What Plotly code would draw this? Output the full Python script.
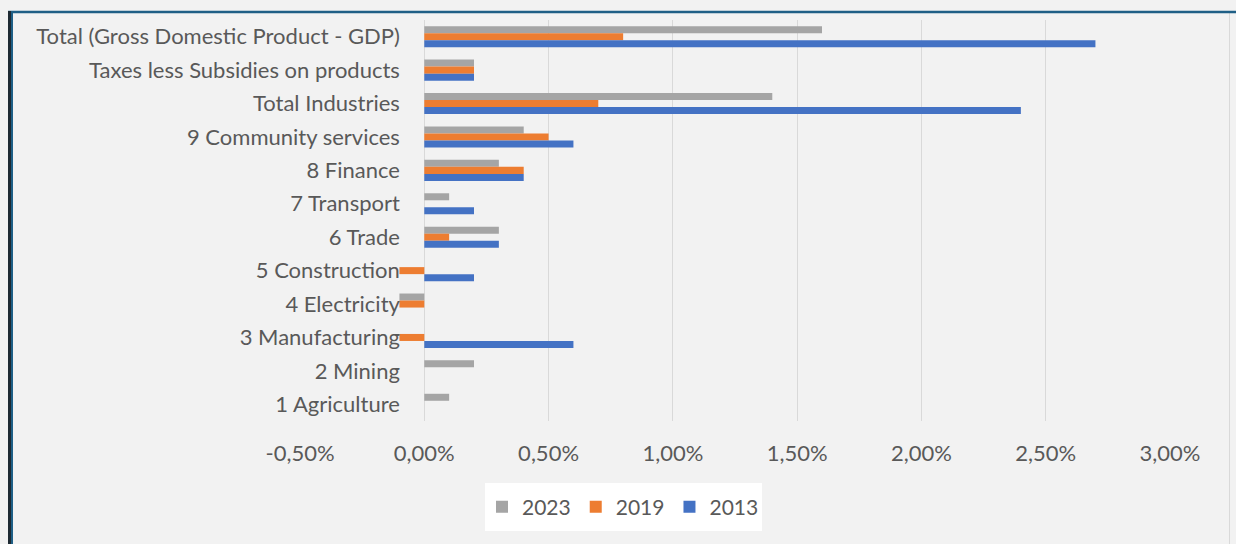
import plotly.graph_objects as go

# Sectors, listed top to bottom as displayed
categories = [
    "Total (Gross Domestic Product - GDP)",
    "Taxes less Subsidies on products",
    "Total Industries",
    "9 Community services",
    "8 Finance",
    "7 Transport",
    "6 Trade",
    "5 Construction",
    "4 Electricity",
    "3 Manufacturing",
    "2 Mining",
    "1 Agriculture",
]

# Growth contributions, in percent
values_2023 = [1.6, 0.2, 1.4, 0.4, 0.3, 0.1, 0.3, 0.0, -0.1, 0.0, 0.2, 0.1]
values_2019 = [0.8, 0.2, 0.7, 0.5, 0.4, 0.0, 0.1, -0.1, -0.1, -0.1, 0.0, 0.0]
values_2013 = [2.7, 0.2, 2.4, 0.6, 0.4, 0.2, 0.3, 0.2, 0.0, 0.6, 0.0, 0.0]

x_tick_values = [-0.5, 0.0, 0.5, 1.0, 1.5, 2.0, 2.5, 3.0]
x_tick_labels = ["-0,50%", "0,00%", "0,50%", "1,00%", "1,50%", "2,00%", "2,50%", "3,00%"]

series = [
    ("2023", values_2023, "#a5a5a5"),
    ("2019", values_2019, "#ed7d31"),
    ("2013", values_2013, "#4472c4"),
]

W, H = 1236, 544
ML, MR, MT, MB = 300, 66, 20, 123
X_MIN, X_MAX = -0.5, 3.0

fig = go.Figure()
for name, vals, color in series:
    fig.add_trace(go.Bar(
        y=categories, x=vals, name=name, orientation="h",
        marker=dict(color=color, line=dict(width=0)),
    ))

text_color = "#595959"
font_family = "Lato, 'Open Sans', sans-serif"

# helpers: pixel -> paper coordinates
plot_w = W - ML - MR
plot_h = H - MT - MB


def px_x(px):
    return (px - ML) / plot_w


def px_y(py):
    return (H - MB - py) / plot_h


zero_pos = (0 - X_MIN) / (X_MAX - X_MIN)

fig.update_layout(
    width=W, height=H,
    margin=dict(l=ML, r=MR, t=MT, b=MB, autoexpand=False),
    paper_bgcolor="#f2f2f2",
    plot_bgcolor="#f2f2f2",
    barmode="group",
    bargap=0.37,
    bargroupgap=0,
    font=dict(family=font_family, size=22, color=text_color),
    xaxis=dict(
        range=[X_MIN, X_MAX],
        tickvals=x_tick_values,
        ticktext=x_tick_labels,
        showgrid=True, gridcolor="#d9d9d9", gridwidth=1,
        zeroline=True, zerolinecolor="#d9d9d9", zerolinewidth=1,
        showline=False,
        ticks="outside", ticklen=13, tickcolor="rgba(0,0,0,0)",
        tickfont=dict(size=22, color=text_color),
        fixedrange=True,
        automargin=False,
    ),
    yaxis=dict(
        autorange="reversed",
        anchor="free", position=zero_pos,
        showgrid=False, zeroline=False, showline=False,
        ticks="outside", ticklen=20, tickcolor="rgba(0,0,0,0)",
        tickfont=dict(size=22, color=text_color),
        automargin=False,
        fixedrange=True,
    ),
    legend=dict(
        orientation="h",
        x=px_x(623), xanchor="center",
        y=px_y(507), yanchor="middle",
        bgcolor="rgba(0,0,0,0)",
        font=dict(size=21, color=text_color),
        traceorder="normal",
        itemsizing="constant",
    ),
    showlegend=True,
    shapes=[
        # white box behind the legend
        dict(type="rect", xref="paper", yref="paper",
             x0=px_x(485), x1=px_x(762), y0=px_y(483), y1=px_y(531),
             fillcolor="#ffffff", line=dict(width=0), layer="below"),
        # frame: top and left edges, right edge hairline
        dict(type="line", xref="paper", yref="paper",
             x0=px_x(8), x1=px_x(W), y0=px_y(12), y1=px_y(12),
             line=dict(color="#1f5f86", width=2.5), layer="above"),
        dict(type="line", xref="paper", yref="paper",
             x0=px_x(9.5), x1=px_x(9.5), y0=px_y(11), y1=px_y(H),
             line=dict(color="#1e2a33", width=3), layer="above"),
        dict(type="line", xref="paper", yref="paper",
             x0=px_x(12), x1=px_x(12), y0=px_y(13), y1=px_y(H),
             line=dict(color="#1f5f86", width=2), layer="above"),
        dict(type="line", xref="paper", yref="paper",
             x0=px_x(1229.5), x1=px_x(1229.5), y0=px_y(13), y1=px_y(H),
             line=dict(color="#d9d9d9", width=1), layer="below"),
    ],
)

fig.write_html("out.html")
